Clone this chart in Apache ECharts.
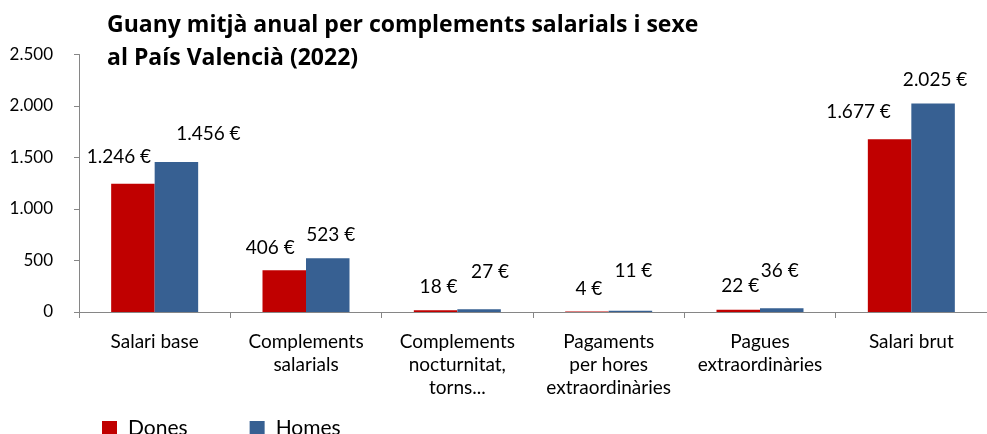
<!DOCTYPE html>
<html lang="ca">
<head>
    <meta charset="UTF-8">
    <script src="https://cdn.jsdelivr.net/npm/echarts@6/dist/echarts.min.js"></script>
    <title>Guany mitjà anual</title>
    <style>
        html, body { margin: 0; padding: 0; background: #fff; }
    </style>
</head>
<body>
    <div id="main" style="width: 987px; height: 434px;"></div>
    <script>
        // dades
        var categories = ['Salari base', 'Complements\nsalarials', 'Complements\nnocturnitat,\ntorns...',
            'Pagaments\nper hores\nextraordinàries', 'Pagues\nextraordinàries', 'Salari brut'];
        var dones = [1246, 406, 18, 4, 22, 1677];
        var homes = [1456, 523, 27, 11, 36, 2025];
        var yTicks = [0, 500, 1000, 1500, 2000, 2500];

        // desplaçament manual de les etiquetes (com a l'original)
        var shiftDones = [[-14, -17], [-14, -13], [3, -14], [2, -13], [2, -14], [-31, -18]];
        var shiftHomes = [[32, -19], [3, -14], [11, -28], [3, -30], [-2, -28], [2, -14]];

        var font = 'Lato, "Open Sans", sans-serif';

        function miles(v) {
            return String(v).replace(/\B(?=(\d{3})+(?!\d))/g, '.');
        }

        function serieData(vals, shifts) {
            return vals.map(function (v, i) {
                return { value: v, label: { offset: shifts[i] } };
            });
        }

        var myChart = echarts.init(document.getElementById('main'));

        var option = {
            animation: false,
            title: {
                text: 'Guany mitjà anual per complements salarials i sexe\nal País Valencià (2022)',
                left: 107,
                top: 9,
                padding: 0,
                textStyle: {
                    fontFamily: '"Open Sans", Lato, sans-serif',
                    fontWeight: 'bold',
                    fontSize: 23,
                    lineHeight: 33,
                    color: '#000'
                }
            },
            legend: {
                left: 102,
                top: 418,
                padding: 0,
                itemWidth: 15,
                itemHeight: 15,
                itemGap: 62,
                icon: 'rect',
                textStyle: { fontFamily: font, fontSize: 21, color: '#000', padding: [0, 0, 0, 6] },
                data: ['Dones', 'Homes']
            },
            grid: {
                left: 79,
                right: -7,
                top: 54.5,
                bottom: 122,
                containLabel: false
            },
            xAxis: {
                type: 'category',
                data: categories,
                axisLine: { lineStyle: { color: '#868686', width: 1 } },
                axisTick: { show: true, length: 6, lineStyle: { color: '#868686' } },
                axisLabel: {
                    interval: 0,
                    margin: 18,
                    fontFamily: font,
                    fontSize: 19,
                    lineHeight: 23,
                    color: '#000'
                }
            },
            yAxis: {
                type: 'value',
                min: 0,
                max: 2500,
                interval: 500,
                axisLine: { show: true, lineStyle: { color: '#868686', width: 1 } },
                axisTick: { show: true, length: 5, lineStyle: { color: '#868686' } },
                splitLine: { show: false },
                axisLabel: {
                    margin: 26,
                    fontFamily: font,
                    fontSize: 17,
                    color: '#000',
                    formatter: function (v) { return miles(v); }
                }
            },
            series: [
                {
                    name: 'Dones',
                    type: 'bar',
                    barWidth: 43.5,
                    barGap: '0%',
                    itemStyle: { color: '#C00000' },
                    label: {
                        show: true,
                        position: 'top',
                        distance: 0,
                        fontFamily: font,
                        fontSize: 19,
                        color: '#000',
                        formatter: function (p) { return miles(p.value) + ' €'; }
                    },
                    data: serieData(dones, shiftDones)
                },
                {
                    name: 'Homes',
                    type: 'bar',
                    barWidth: 43.5,
                    itemStyle: { color: '#376092' },
                    label: {
                        show: true,
                        position: 'top',
                        distance: 0,
                        fontFamily: font,
                        fontSize: 19,
                        color: '#000',
                        formatter: function (p) { return miles(p.value) + ' €'; }
                    },
                    data: serieData(homes, shiftHomes)
                }
            ]
        };
        myChart.setOption(option);
    </script>
</body>
</html>
